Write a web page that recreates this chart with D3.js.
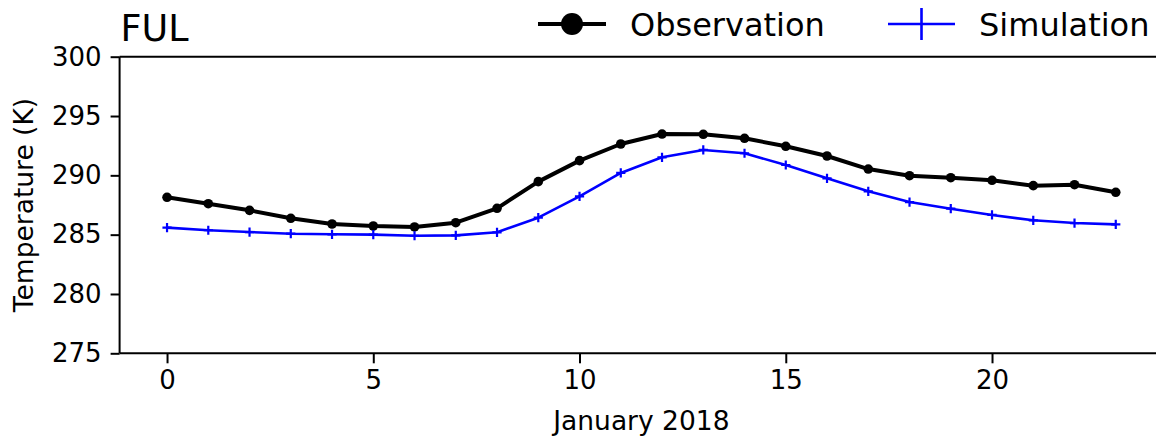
<!DOCTYPE html>
<html>
<head>
<meta charset="utf-8">
<script src="https://cdn.jsdelivr.net/npm/d3@7"></script>
<style>
  html, body { margin: 0; padding: 0; background: #fff; }
  svg { display: block; }
  text { font-family: "DejaVu Sans", sans-serif; fill: #000; }
</style>
</head>
<body>
<svg id="chart" width="1156" height="439"></svg>
<script>
// Hourly 2-m temperature at FUL, January 2018
const hours = d3.range(0, 24);
const observation = [288.15, 287.61, 287.05, 286.38, 285.90, 285.73, 285.65, 286.01,
                     287.22, 289.47, 291.24, 292.64, 293.48, 293.46, 293.12, 292.45,
                     291.63, 290.53, 289.97, 289.80, 289.58, 289.13, 289.21, 288.57];
const simulation  = [285.59, 285.37, 285.22, 285.08, 285.03, 285.00, 284.91, 284.94,
                     285.20, 286.43, 288.23, 290.20, 291.52, 292.14, 291.86, 290.87,
                     289.75, 288.65, 287.75, 287.19, 286.66, 286.21, 285.98, 285.87];
const xTicks = [0, 5, 10, 15, 20];
const yTicks = [275, 280, 285, 290, 295, 300];
const seriesNames = ["Observation", "Simulation"];

const svg = d3.select("#chart");
svg.append("rect").attr("width", 1156).attr("height", 439).attr("fill", "#fff");

const plot = { left: 119.6, right: 1163.2, top: 56.7, bottom: 353.3 };
const x = d3.scaleLinear().domain([-1.15, 24.15]).range([plot.left, plot.right]);
const y = d3.scaleLinear().domain([275, 300]).range([plot.bottom, plot.top]);

// frame
const frame = svg.append("g").attr("stroke", "#000").attr("stroke-width", 2).attr("fill", "none");
frame.append("line").attr("x1", plot.left).attr("x2", plot.right).attr("y1", plot.top).attr("y2", plot.top);
frame.append("line").attr("x1", plot.right).attr("x2", plot.right).attr("y1", plot.top).attr("y2", plot.bottom);

// axes
const xAxis = svg.append("g")
  .attr("transform", `translate(0,${plot.bottom})`)
  .call(d3.axisBottom(x).tickValues(xTicks).tickSize(10).tickPadding(7).tickFormat(d3.format("d")));
const yAxis = svg.append("g")
  .attr("transform", `translate(${plot.left},0)`)
  .call(d3.axisLeft(y).tickValues(yTicks).tickSize(9).tickPadding(9).tickFormat(d3.format("d")));
[xAxis, yAxis].forEach(g => {
  g.select(".domain").attr("stroke", "#000").attr("stroke-width", 2);
  g.selectAll(".tick line").attr("stroke", "#000").attr("stroke-width", 2);
  g.selectAll(".tick text").attr("font-size", 26).attr("font-family", "DejaVu Sans").attr("fill", "#000");
});
xAxis.select(".domain").attr("d", `M${plot.left},0H${plot.right}`);
yAxis.select(".domain").attr("d", `M0,${plot.bottom}V${plot.top}`);

// axis labels and title
svg.append("text").attr("x", (plot.left + plot.right) / 2).attr("y", 430)
  .attr("text-anchor", "middle").attr("font-size", 26.5).text("January 2018");
svg.append("text").attr("transform", `translate(33,${(plot.top + plot.bottom) / 2}) rotate(-90)`)
  .attr("text-anchor", "middle").attr("font-size", 26.5).text("Temperature (K)");
svg.append("text").attr("x", plot.left + 1).attr("y", 41).attr("font-size", 36.5).text("FUL");

const line = d3.line().x((d, i) => x(hours[i])).y(d => y(d));

// observation: black line with dots
svg.append("path").datum(observation).attr("d", line)
  .attr("fill", "none").attr("stroke", "#000").attr("stroke-width", 4).attr("stroke-linejoin", "round");
svg.append("g").selectAll("circle").data(observation).join("circle")
  .attr("cx", (d, i) => x(hours[i])).attr("cy", d => y(d)).attr("r", 4.8).attr("fill", "#000");

// simulation: blue line with plus markers
const blue = "#0000ff";
svg.append("path").datum(simulation).attr("d", line)
  .attr("fill", "none").attr("stroke", blue).attr("stroke-width", 2.6).attr("stroke-linejoin", "round");
const plus = (s) => `M${-s},0H${s}M0,${-s}V${s}`;
svg.append("g").selectAll("path").data(simulation).join("path")
  .attr("transform", (d, i) => `translate(${x(hours[i])},${y(d)})`)
  .attr("d", plus(4.6)).attr("stroke", blue).attr("stroke-width", 2.2).attr("fill", "none");

// legend
const legend = svg.append("g");
const legY = 24;
const obsKey = legend.append("g");
obsKey.append("line").attr("x1", 538).attr("x2", 606).attr("y1", legY).attr("y2", legY)
  .attr("stroke", "#000").attr("stroke-width", 4);
obsKey.append("circle").attr("cx", 572).attr("cy", legY).attr("r", 11).attr("fill", "#000");
obsKey.append("text").attr("x", 630).attr("y", legY + 12).attr("font-size", 32).text(seriesNames[0]);

const simKey = legend.append("g");
simKey.append("line").attr("x1", 888).attr("x2", 955).attr("y1", legY).attr("y2", legY)
  .attr("stroke", blue).attr("stroke-width", 2.6);
simKey.append("path").attr("transform", `translate(921.5,${legY})`).attr("d", "M0,-16V16")
  .attr("stroke", blue).attr("stroke-width", 2.6);
simKey.append("text").attr("x", 979).attr("y", legY + 12).attr("font-size", 32).text(seriesNames[1]);
</script>
</body>
</html>
